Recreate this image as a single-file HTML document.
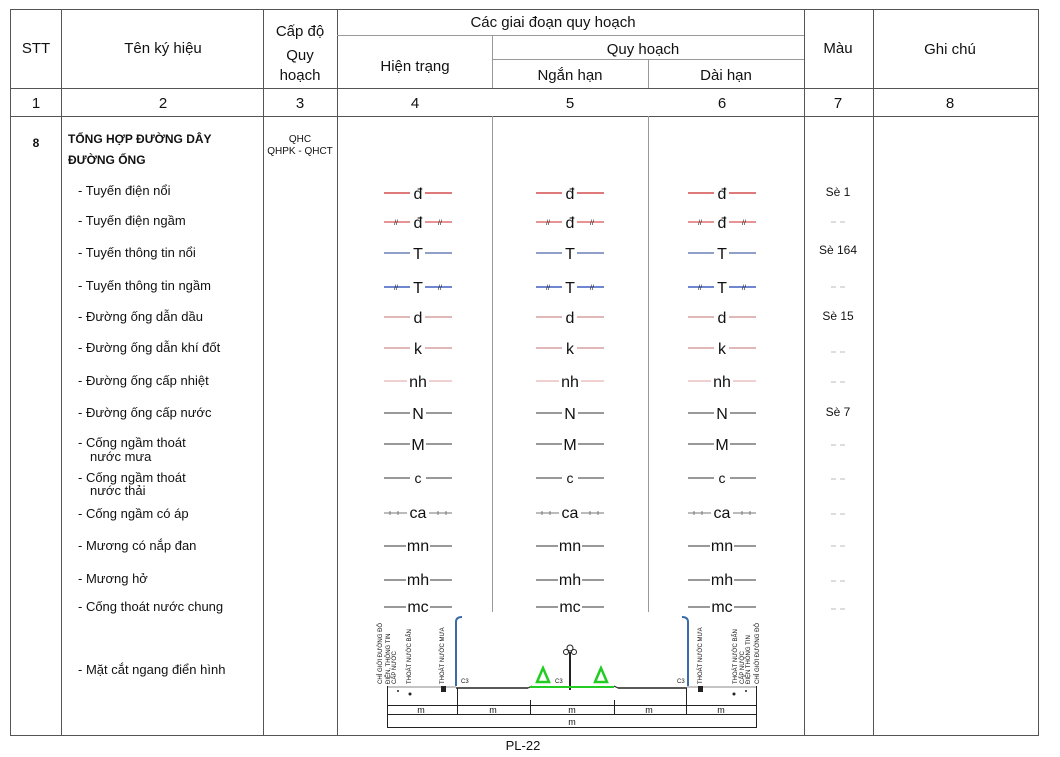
<!DOCTYPE html>
<html><head><meta charset="utf-8"><style>
html,body{margin:0;padding:0;background:#fff}
svg{display:block}
text{font-family:"Liberation Sans",Arial,sans-serif;fill:#111}
</style></head><body>
<svg width="1060" height="757" viewBox="0 0 1060 757" xmlns="http://www.w3.org/2000/svg">
<defs>
<g id="s1"><line x1="-34" y1="0" x2="-8" y2="0" stroke="#e07a7a" stroke-width="2"/><line x1="7" y1="0" x2="34" y2="0" stroke="#e07a7a" stroke-width="2"/></g>
<g id="s2"><line x1="-34" y1="0" x2="-8" y2="0" stroke="#d02828" stroke-width="1"/><line x1="7" y1="0" x2="34" y2="0" stroke="#d02828" stroke-width="1"/><text x="-22" y="3" font-size="7" fill="#f09090" text-anchor="middle">//</text><text x="22" y="3" font-size="7" fill="#f09090" text-anchor="middle">//</text></g>
<g id="s3"><line x1="-34" y1="0" x2="-8" y2="0" stroke="#1f3f8f" stroke-width="1"/><line x1="7" y1="0" x2="34" y2="0" stroke="#1f3f8f" stroke-width="1"/></g>
<g id="s4"><line x1="-34" y1="0" x2="-8" y2="0" stroke="#6f86d0" stroke-width="2"/><line x1="7" y1="0" x2="34" y2="0" stroke="#6f86d0" stroke-width="2"/><text x="-22" y="3" font-size="7" fill="#c0ccf0" text-anchor="middle">//</text><text x="22" y="3" font-size="7" fill="#c0ccf0" text-anchor="middle">//</text></g>
<g id="s5"><line x1="-34" y1="0" x2="-8" y2="0" stroke="#c07070" stroke-width="1"/><line x1="7" y1="0" x2="34" y2="0" stroke="#c07070" stroke-width="1"/></g>
<g id="s6"><line x1="-34" y1="0" x2="-11" y2="0" stroke="#e0a0a0" stroke-width="1"/><line x1="11" y1="0" x2="34" y2="0" stroke="#e0a0a0" stroke-width="1"/></g>
<g id="s7"><line x1="-34" y1="0" x2="-8" y2="0" stroke="#333" stroke-width="1"/><line x1="8" y1="0" x2="34" y2="0" stroke="#333" stroke-width="1"/></g>
<g id="s8"><line x1="-34" y1="0" x2="-12" y2="0" stroke="#333" stroke-width="1"/><line x1="12" y1="0" x2="34" y2="0" stroke="#333" stroke-width="1"/></g>
<g id="s9"><line x1="-34" y1="0" x2="-11" y2="0" stroke="#777" stroke-width="1"/><line x1="11" y1="0" x2="34" y2="0" stroke="#777" stroke-width="1"/>
<line x1="-28" y1="-2" x2="-28" y2="2" stroke="#777"/><line x1="-20" y1="-2" x2="-20" y2="2" stroke="#777"/><line x1="20" y1="-2" x2="20" y2="2" stroke="#777"/><line x1="28" y1="-2" x2="28" y2="2" stroke="#777"/></g>
</defs>

<g stroke="#555" stroke-width="1" fill="none">
<rect x="10.5" y="9.5" width="1028" height="726"/>
<line x1="61.5" y1="9" x2="61.5" y2="735"/>
<line x1="263.5" y1="9" x2="263.5" y2="735"/>
<line x1="337.5" y1="9" x2="337.5" y2="735"/>
<line x1="804.5" y1="9" x2="804.5" y2="735"/>
<line x1="873.5" y1="9" x2="873.5" y2="735"/>
<line x1="10" y1="88.5" x2="1038" y2="88.5"/>
<line x1="10" y1="116.5" x2="1038" y2="116.5"/>
</g>
<g stroke="#999" stroke-width="1">
<line x1="337" y1="35.5" x2="804" y2="35.5"/>
<line x1="492" y1="59.5" x2="804" y2="59.5"/>
<line x1="492.5" y1="35" x2="492.5" y2="88"/>
<line x1="648.5" y1="59" x2="648.5" y2="88"/>
<line x1="492.5" y1="116" x2="492.5" y2="612"/>
<line x1="648.5" y1="116" x2="648.5" y2="612"/>
</g>

<g font-size="15" text-anchor="middle">
<text x="36" y="53">STT</text>
<text x="163" y="53">Tên ký hiệu</text>
<text x="300" y="36">Cấp độ</text>
<text x="300" y="60">Quy</text>
<text x="300" y="80">hoạch</text>
<text x="553" y="27">Các giai đoạn quy hoạch</text>
<text x="415" y="71">Hiện trạng</text>
<text x="643" y="54">Quy hoạch</text>
<text x="570" y="80">Ngắn hạn</text>
<text x="726" y="80">Dài hạn</text>
<text x="838" y="53">Màu</text>
<text x="950" y="54">Ghi chú</text>
<text x="36" y="108">1</text>
<text x="163" y="108">2</text>
<text x="300" y="108">3</text>
<text x="415" y="108">4</text>
<text x="570" y="108">5</text>
<text x="722" y="108">6</text>
<text x="838" y="108">7</text>
<text x="950" y="108">8</text>
</g>

<text x="36" y="147" font-size="12" font-weight="bold" text-anchor="middle">8</text>
<text x="68" y="143" font-size="12" font-weight="bold">TỔNG HỢP ĐƯỜNG DÂY</text>
<text x="68" y="164" font-size="12" font-weight="bold">ĐƯỜNG ỐNG</text>
<text x="300" y="142" font-size="10" text-anchor="middle">QHC</text>
<text x="300" y="154" font-size="10" text-anchor="middle">QHPK - QHCT</text>

<g font-size="13">
<text x="78" y="195">- Tuyến điện nổi</text>
<text x="78" y="225">- Tuyến điện ngầm</text>
<text x="78" y="257">- Tuyến thông tin nổi</text>
<text x="78" y="290">- Tuyến thông tin ngầm</text>
<text x="78" y="321">- Đường ống dẫn dầu</text>
<text x="78" y="352">- Đường ống dẫn khí đốt</text>
<text x="78" y="385">- Đường ống cấp nhiệt</text>
<text x="78" y="417">- Đường ống cấp nước</text>
<text x="78" y="447">- Cống ngầm thoát</text>
<text x="90" y="461">nước mưa</text>
<text x="78" y="482">- Cống ngầm thoát</text>
<text x="90" y="495">nước thải</text>
<text x="78" y="518">- Cống ngầm có áp</text>
<text x="78" y="550">- Mương có nắp đan</text>
<text x="78" y="583">- Mương hở</text>
<text x="78" y="611">- Cống thoát nước chung</text>
<text x="78" y="674">- Mặt cắt ngang điển hình</text>
</g>

<g>
<use href="#s1" x="418" y="193"/><use href="#s1" x="570" y="193"/><use href="#s1" x="722" y="193"/>
<use href="#s2" x="418" y="222"/><use href="#s2" x="570" y="222"/><use href="#s2" x="722" y="222"/>
<use href="#s3" x="418" y="253"/><use href="#s3" x="570" y="253"/><use href="#s3" x="722" y="253"/>
<use href="#s4" x="418" y="287"/><use href="#s4" x="570" y="287"/><use href="#s4" x="722" y="287"/>
<use href="#s5" x="418" y="317"/><use href="#s5" x="570" y="317"/><use href="#s5" x="722" y="317"/>
<use href="#s5" x="418" y="348"/><use href="#s5" x="570" y="348"/><use href="#s5" x="722" y="348"/>
<use href="#s6" x="418" y="381"/><use href="#s6" x="570" y="381"/><use href="#s6" x="722" y="381"/>
<use href="#s7" x="418" y="413"/><use href="#s7" x="570" y="413"/><use href="#s7" x="722" y="413"/>
<use href="#s7" x="418" y="444"/><use href="#s7" x="570" y="444"/><use href="#s7" x="722" y="444"/>
<use href="#s7" x="418" y="478"/><use href="#s7" x="570" y="478"/><use href="#s7" x="722" y="478"/>
<use href="#s9" x="418" y="513"/><use href="#s9" x="570" y="513"/><use href="#s9" x="722" y="513"/>
<use href="#s8" x="418" y="546"/><use href="#s8" x="570" y="546"/><use href="#s8" x="722" y="546"/>
<use href="#s8" x="418" y="580"/><use href="#s8" x="570" y="580"/><use href="#s8" x="722" y="580"/>
<use href="#s8" x="418" y="607"/><use href="#s8" x="570" y="607"/><use href="#s8" x="722" y="607"/>
</g>
<g font-size="16" text-anchor="middle">
<text x="418" y="199">đ</text><text x="570" y="199">đ</text><text x="722" y="199">đ</text>
<text x="418" y="228">đ</text><text x="570" y="228">đ</text><text x="722" y="228">đ</text>
<text x="418" y="259">T</text><text x="570" y="259">T</text><text x="722" y="259">T</text>
<text x="418" y="293">T</text><text x="570" y="293">T</text><text x="722" y="293">T</text>
<text x="418" y="323">d</text><text x="570" y="323">d</text><text x="722" y="323">d</text>
<text x="418" y="354">k</text><text x="570" y="354">k</text><text x="722" y="354">k</text>
<text x="418" y="387">nh</text><text x="570" y="387">nh</text><text x="722" y="387">nh</text>
<text x="418" y="419">N</text><text x="570" y="419">N</text><text x="722" y="419">N</text>
<text x="418" y="450">M</text><text x="570" y="450">M</text><text x="722" y="450">M</text>
<text x="418" y="483" font-size="14">c</text><text x="570" y="483" font-size="14">c</text><text x="722" y="483" font-size="14">c</text>
<text x="418" y="518">ca</text><text x="570" y="518">ca</text><text x="722" y="518">ca</text>
<text x="418" y="551">mn</text><text x="570" y="551">mn</text><text x="722" y="551">mn</text>
<text x="418" y="585">mh</text><text x="570" y="585">mh</text><text x="722" y="585">mh</text>
<text x="418" y="612">mc</text><text x="570" y="612">mc</text><text x="722" y="612">mc</text>
</g>

<g font-size="12" text-anchor="middle">
<text x="838" y="196">Sè 1</text>
<text x="838" y="254">Sè 164</text>
<text x="838" y="320">Sè 15</text>
<text x="838" y="416">Sè 7</text>
</g>
<g stroke="#bbb" stroke-width="1">
<line x1="831" y1="222" x2="836" y2="222"/><line x1="840" y1="222" x2="845" y2="222"/>
<line x1="831" y1="287" x2="836" y2="287"/><line x1="840" y1="287" x2="845" y2="287"/>
<line x1="831" y1="352" x2="836" y2="352"/><line x1="840" y1="352" x2="845" y2="352"/>
<line x1="831" y1="382" x2="836" y2="382"/><line x1="840" y1="382" x2="845" y2="382"/>
<line x1="831" y1="445" x2="836" y2="445"/><line x1="840" y1="445" x2="845" y2="445"/>
<line x1="831" y1="479" x2="836" y2="479"/><line x1="840" y1="479" x2="845" y2="479"/>
<line x1="831" y1="514" x2="836" y2="514"/><line x1="840" y1="514" x2="845" y2="514"/>
<line x1="831" y1="546" x2="836" y2="546"/><line x1="840" y1="546" x2="845" y2="546"/>
<line x1="831" y1="581" x2="836" y2="581"/><line x1="840" y1="581" x2="845" y2="581"/>
<line x1="831" y1="609" x2="836" y2="609"/><line x1="840" y1="609" x2="845" y2="609"/>
</g>

<g stroke="#222" stroke-width="1" fill="none">
<line x1="388" y1="687" x2="456" y2="687" stroke="#888"/>
<line x1="456" y1="688" x2="528" y2="688" stroke-width="1.5"/>
<line x1="528" y1="688" x2="532" y2="686"/>
<line x1="614" y1="686" x2="618" y2="688"/>
<line x1="618" y1="688" x2="687" y2="688" stroke-width="1.5"/>
<line x1="687" y1="687" x2="757" y2="687" stroke="#888"/>
<line x1="387" y1="705.5" x2="757" y2="705.5"/>
<line x1="387" y1="714.5" x2="757" y2="714.5"/>
<line x1="387" y1="727.5" x2="757" y2="727.5"/>
<line x1="387.5" y1="686" x2="387.5" y2="727"/>
<line x1="756.5" y1="686" x2="756.5" y2="727"/>
<line x1="457.5" y1="688" x2="457.5" y2="714"/>
<line x1="530.5" y1="700" x2="530.5" y2="714"/>
<line x1="614.5" y1="700" x2="614.5" y2="714"/>
<line x1="686.5" y1="688" x2="686.5" y2="714"/>
<line x1="570" y1="652" x2="570" y2="690" stroke-width="2"/>
</g>
<line x1="530" y1="687" x2="614" y2="687" stroke="#2c2" stroke-width="2"/>
<path d="M456 686 L456 622 Q456 617 462 617" stroke="#3a6aa8" stroke-width="2" fill="none"/>
<path d="M688 686 L688 622 Q688 617 682 617" stroke="#3a6aa8" stroke-width="2" fill="none"/>
<path d="M543 668 L537 682 L549 682 Z" fill="none" stroke="#2c2" stroke-width="2.5"/>
<path d="M601 668 L595 682 L607 682 Z" fill="none" stroke="#2c2" stroke-width="2.5"/>
<circle cx="570" cy="648" r="3" fill="none" stroke="#222"/>
<circle cx="566" cy="652" r="2.5" fill="none" stroke="#222"/><circle cx="574" cy="652" r="2.5" fill="none" stroke="#222"/>
<rect x="441" y="686" width="5" height="6" fill="#222"/>
<rect x="698" y="686" width="5" height="6" fill="#222"/>
<circle cx="398" cy="691" r="1" fill="#222"/><circle cx="410" cy="694" r="1.5" fill="#222"/>
<circle cx="734" cy="694" r="1.5" fill="#222"/><circle cx="746" cy="691" r="1" fill="#222"/>
<g font-size="6" fill="#333">
<text transform="translate(382,684) rotate(-90)">CHỈ GIỚI ĐƯỜNG ĐỎ</text>
<text transform="translate(390,684) rotate(-90)">ĐIỆN, THÔNG TIN</text>
<text transform="translate(396,684) rotate(-90)">CẤP NƯỚC</text>
<text transform="translate(411,684) rotate(-90)">THOÁT NƯỚC BẨN</text>
<text transform="translate(444,684) rotate(-90)">THOÁT NƯỚC MƯA</text>
<text transform="translate(702,684) rotate(-90)">THOÁT NƯỚC MƯA</text>
<text transform="translate(737,684) rotate(-90)">THOÁT NƯỚC BẨN</text>
<text transform="translate(744,684) rotate(-90)">CẤP NƯỚC</text>
<text transform="translate(750,684) rotate(-90)">ĐIỆN THÔNG TIN</text>
<text transform="translate(759,684) rotate(-90)">CHỈ GIỚI ĐƯỜNG ĐỎ</text>
<text x="461" y="683">C3</text><text x="555" y="683">C3</text><text x="677" y="683">C3</text>
</g>
<g font-size="9" text-anchor="middle" fill="#333">
<text x="421" y="713">m</text><text x="493" y="713">m</text><text x="572" y="713">m</text><text x="649" y="713">m</text><text x="721" y="713">m</text>
<text x="572" y="725">m</text>
</g>

<text x="523" y="750" font-size="13" text-anchor="middle">PL-22</text>
</svg>
</body></html>
